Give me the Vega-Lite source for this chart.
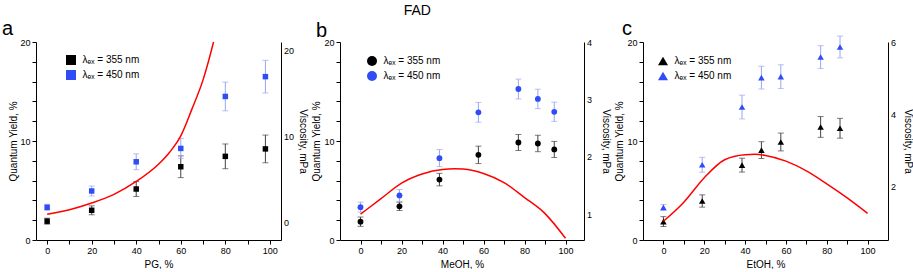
{
  "$schema": "https://vega.github.io/schema/vega-lite/v6.json",
  "background": "white",
  "padding": {"left": 2, "top": 3, "right": 0, "bottom": 0},
  "title": {"text": "FAD", "fontSize": 14, "font": "Liberation Sans", "fontWeight": "normal", "anchor": "middle", "dx": -40, "offset": 1, "color": "black"},
  "datasets": {
    "a_qy": [
      {"x": 0, "series": "355", "qy": 1.9, "err": 0.3},
      {"x": 20, "series": "355", "qy": 3.0, "err": 0.45},
      {"x": 40, "series": "355", "qy": 5.15, "err": 0.75},
      {"x": 60, "series": "355", "qy": 7.4, "err": 1.1},
      {"x": 80, "series": "355", "qy": 8.45, "err": 1.25},
      {"x": 98, "series": "355", "qy": 9.2, "err": 1.4},
      {"x": 0, "series": "450", "qy": 3.3, "err": 0.3},
      {"x": 20, "series": "450", "qy": 4.95, "err": 0.5},
      {"x": 40, "series": "450", "qy": 7.9, "err": 0.8},
      {"x": 60, "series": "450", "qy": 9.25, "err": 1.0},
      {"x": 80, "series": "450", "qy": 14.5, "err": 1.45},
      {"x": 98, "series": "450", "qy": 16.5, "err": 1.65}
    ],
    "a_visc": [
      {"x": 0, "v": 1.0}, {"x": 10, "v": 1.52}, {"x": 20, "v": 2.3}, {"x": 30, "v": 3.3},
      {"x": 40, "v": 4.8}, {"x": 50, "v": 6.8}, {"x": 55, "v": 8.2}, {"x": 60, "v": 10.1},
      {"x": 65, "v": 13.2}, {"x": 70, "v": 16.6}, {"x": 75, "v": 21.3}, {"x": 80, "v": 27}
    ],
    "b_qy": [
      {"x": 0, "series": "355", "qy": 1.85, "err": 0.47},
      {"x": 19, "series": "355", "qy": 3.4, "err": 0.42},
      {"x": 38.5, "series": "355", "qy": 6.1, "err": 0.63},
      {"x": 57.5, "series": "355", "qy": 8.6, "err": 0.88},
      {"x": 77, "series": "355", "qy": 9.85, "err": 0.81},
      {"x": 86.5, "series": "355", "qy": 9.75, "err": 0.83},
      {"x": 94.5, "series": "355", "qy": 9.15, "err": 0.81},
      {"x": 0, "series": "450", "qy": 3.32, "err": 0.5},
      {"x": 19, "series": "450", "qy": 4.5, "err": 0.6},
      {"x": 38.5, "series": "450", "qy": 8.27, "err": 0.86},
      {"x": 57.5, "series": "450", "qy": 12.9, "err": 1.0},
      {"x": 77, "series": "450", "qy": 15.25, "err": 1.0},
      {"x": 86.5, "series": "450", "qy": 14.25, "err": 0.98},
      {"x": 94.5, "series": "450", "qy": 12.95, "err": 0.97}
    ],
    "b_visc": [
      {"x": 0, "v": 1.0}, {"x": 10, "v": 1.27}, {"x": 20, "v": 1.54}, {"x": 30, "v": 1.7},
      {"x": 40, "v": 1.78}, {"x": 46, "v": 1.79}, {"x": 50, "v": 1.785}, {"x": 60, "v": 1.71},
      {"x": 70, "v": 1.55}, {"x": 80, "v": 1.29}, {"x": 90, "v": 1.01}, {"x": 100, "v": 0.58}
    ],
    "c_qy": [
      {"x": 0, "series": "355", "qy": 1.86, "err": 0.5},
      {"x": 19, "series": "355", "qy": 3.94, "err": 0.62},
      {"x": 38.5, "series": "355", "qy": 7.56, "err": 0.7},
      {"x": 48, "series": "355", "qy": 9.08, "err": 0.85},
      {"x": 57.5, "series": "355", "qy": 9.9, "err": 0.9},
      {"x": 77, "series": "355", "qy": 11.42, "err": 1.05},
      {"x": 86.5, "series": "355", "qy": 11.29, "err": 1.0},
      {"x": 0, "series": "450", "qy": 3.29, "err": 0.3},
      {"x": 19, "series": "450", "qy": 7.6, "err": 0.75},
      {"x": 38.5, "series": "450", "qy": 13.43, "err": 1.2},
      {"x": 48, "series": "450", "qy": 16.4, "err": 1.15},
      {"x": 57.5, "series": "450", "qy": 16.5, "err": 1.2},
      {"x": 77, "series": "450", "qy": 18.48, "err": 1.15},
      {"x": 86.5, "series": "450", "qy": 19.5, "err": 1.1}
    ],
    "c_visc": [
      {"x": 0, "v": 1.02}, {"x": 10, "v": 1.55}, {"x": 20, "v": 2.23}, {"x": 30, "v": 2.73},
      {"x": 40, "v": 2.87}, {"x": 45, "v": 2.88}, {"x": 50, "v": 2.85}, {"x": 60, "v": 2.69},
      {"x": 70, "v": 2.42}, {"x": 80, "v": 2.06}, {"x": 90, "v": 1.67}, {"x": 100, "v": 1.24}
    ]
  },
  "hconcat": [
    {
      "width": 245, "height": 198,
      "title": {"text": "a", "frame": "group", "anchor": "start", "fontSize": 20, "fontWeight": "normal", "font": "Liberation Sans", "dx": -34, "offset": -1, "color": "black"},
      "encoding": {"x": {"field": "x", "type": "quantitative", "scale": {"domain": [-5, 105], "nice": false, "zero": false},
        "axis": {"title": "PG, %", "values": [0, 10, 20, 30, 40, 50, 60, 70, 80, 90, 100], "labelExpr": "datum.value % 20 === 0 ? datum.label : ''", "encode": {"ticks": {"update": {"y2": {"signal": "datum.value % 20 === 0 ? 4 : 2"}}}}}}},
      "layer": [
        {"data": {"name": "a_qy"}, "transform": [{"filter": "datum.series === '355'"}],
         "mark": {"type": "errorbar", "ticks": {"size": 6, "color": "#444444"}, "rule": {"color": "#444444"}},
         "encoding": {"y": {"field": "qy", "type": "quantitative", "scale": {"domain": [0, 20], "nice": false}, "axis": null}, "yError": {"field": "err"}}},
        {"data": {"name": "a_qy"}, "transform": [{"filter": "datum.series === '450'"}],
         "mark": {"type": "errorbar", "ticks": {"size": 6, "color": "#98a6f2"}, "rule": {"color": "#98a6f2"}},
         "encoding": {"y": {"field": "qy", "type": "quantitative", "scale": {"domain": [0, 20], "nice": false}, "axis": null}, "yError": {"field": "err"}}},
        {"data": {"name": "a_qy"},
         "mark": {"type": "square", "size": 30, "opacity": 1},
         "encoding": {
           "y": {"field": "qy", "type": "quantitative", "scale": {"domain": [0, 20], "nice": false},
             "axis": {"orient": "left", "title": "Quantum Yield, %", "values": [0, 2, 4, 6, 8, 10, 12, 14, 16, 18, 20], "labelExpr": "datum.value % 10 === 0 ? datum.label : ''", "titlePadding": 1, "encode": {"ticks": {"update": {"x2": {"signal": "datum.value % 10 === 0 ? -4 : -2"}}}}}},
           "color": {"field": "series", "type": "nominal", "scale": {"domain": ["355", "450"], "range": ["#000000", "#2f4cf7"]},
             "legend": {"orient": "none", "legendX": 30, "legendY": 13, "title": null, "labelExpr": "datum.label === '355' ? 'λₑₓ = 355 nm' : 'λₑₓ = 450 nm'"}}}},
        {"data": {"name": "a_visc"},
         "mark": {"type": "line", "color": "#ff0000", "strokeWidth": 1.5, "interpolate": "monotone", "clip": true},
         "encoding": {"y": {"field": "v", "type": "quantitative", "scale": {"domain": [-2, 21], "nice": false, "zero": false},
           "axis": {"orient": "right", "title": "Viscosity, mPa", "values": [0, 5, 10, 15, 20], "format": ".0f", "labelExpr": "datum.value % 10 === 0 ? datum.label : ''", "tickSize": 0, "labelPadding": 2.5, "titlePadding": 4, "encode": {"ticks": {"update": {"x2": {"signal": "datum.value % 10 === 0 ? -4 : -2"}}}}}}}}
      ],
      "resolve": {"scale": {"y": "independent"}}
    },
    {
      "width": 244, "height": 198,
      "title": {"text": "b", "frame": "group", "anchor": "start", "fontSize": 20, "fontWeight": "normal", "font": "Liberation Sans", "dx": -24, "offset": -3, "color": "black"},
      "encoding": {"x": {"field": "x", "type": "quantitative", "scale": {"domain": [-10, 109], "nice": false, "zero": false},
        "axis": {"title": "MeOH, %", "values": [0, 10, 20, 30, 40, 50, 60, 70, 80, 90, 100], "labelExpr": "datum.value % 20 === 0 ? datum.label : ''", "encode": {"ticks": {"update": {"y2": {"signal": "datum.value % 20 === 0 ? 4 : 2"}}}}}}},
      "layer": [
        {"data": {"name": "b_qy"}, "transform": [{"filter": "datum.series === '355'"}],
         "mark": {"type": "errorbar", "ticks": {"size": 6, "color": "#444444"}, "rule": {"color": "#444444"}},
         "encoding": {"y": {"field": "qy", "type": "quantitative", "scale": {"domain": [0, 20], "nice": false}, "axis": null}, "yError": {"field": "err"}}},
        {"data": {"name": "b_qy"}, "transform": [{"filter": "datum.series === '450'"}],
         "mark": {"type": "errorbar", "ticks": {"size": 6, "color": "#98a6f2"}, "rule": {"color": "#98a6f2"}},
         "encoding": {"y": {"field": "qy", "type": "quantitative", "scale": {"domain": [0, 20], "nice": false}, "axis": null}, "yError": {"field": "err"}}},
        {"data": {"name": "b_qy"},
         "mark": {"type": "circle", "size": 34, "opacity": 1},
         "encoding": {
           "y": {"field": "qy", "type": "quantitative", "scale": {"domain": [0, 20], "nice": false},
             "axis": {"orient": "left", "title": "Quantum Yield, %", "values": [0, 2, 4, 6, 8, 10, 12, 14, 16, 18, 20], "labelExpr": "datum.value % 10 === 0 ? datum.label : ''", "titlePadding": 2, "encode": {"ticks": {"update": {"x2": {"signal": "datum.value % 10 === 0 ? -4 : -2"}}}}}},
           "color": {"field": "series", "type": "nominal", "scale": {"domain": ["355", "450"], "range": ["#000000", "#2f4cf7"]},
             "legend": {"orient": "none", "legendX": 27, "legendY": 14, "title": null, "labelExpr": "datum.label === '355' ? 'λₑₓ = 355 nm' : 'λₑₓ = 450 nm'"}}}},
        {"data": {"name": "b_visc"},
         "mark": {"type": "line", "color": "#ff0000", "strokeWidth": 1.5, "interpolate": "monotone", "clip": true},
         "encoding": {"y": {"field": "v", "type": "quantitative", "scale": {"domain": [0.55, 4], "nice": false, "zero": false},
           "axis": {"orient": "right", "title": "Viscosity, mPa", "values": [1, 1.5, 2, 2.5, 3, 3.5, 4], "format": ".0f", "labelExpr": "datum.value % 1 === 0 ? datum.label : ''", "tickSize": 0, "labelPadding": 2.5, "titlePadding": 9, "encode": {"ticks": {"update": {"x2": {"signal": "datum.value % 1 === 0 ? -4 : -2"}}}}}}}}
      ],
      "resolve": {"scale": {"y": "independent"}}
    },
    {
      "width": 245, "height": 198,
      "title": {"text": "c", "frame": "group", "anchor": "start", "fontSize": 20, "fontWeight": "normal", "font": "Liberation Sans", "dx": -21, "offset": -3, "color": "black"},
      "encoding": {"x": {"field": "x", "type": "quantitative", "scale": {"domain": [-10, 110], "nice": false, "zero": false},
        "axis": {"title": "EtOH, %", "values": [0, 10, 20, 30, 40, 50, 60, 70, 80, 90, 100], "labelExpr": "datum.value % 20 === 0 ? datum.label : ''", "encode": {"ticks": {"update": {"y2": {"signal": "datum.value % 20 === 0 ? 4 : 2"}}}}}}},
      "layer": [
        {"data": {"name": "c_qy"}, "transform": [{"filter": "datum.series === '355'"}],
         "mark": {"type": "errorbar", "ticks": {"size": 6, "color": "#444444"}, "rule": {"color": "#444444"}},
         "encoding": {"y": {"field": "qy", "type": "quantitative", "scale": {"domain": [0, 20], "nice": false}, "axis": null}, "yError": {"field": "err"}}},
        {"data": {"name": "c_qy"}, "transform": [{"filter": "datum.series === '450'"}],
         "mark": {"type": "errorbar", "ticks": {"size": 6, "color": "#98a6f2"}, "rule": {"color": "#98a6f2"}},
         "encoding": {"y": {"field": "qy", "type": "quantitative", "scale": {"domain": [0, 20], "nice": false}, "axis": null}, "yError": {"field": "err"}}},
        {"data": {"name": "c_qy"},
         "mark": {"type": "point", "shape": "triangle-up", "filled": true, "size": 42, "opacity": 1},
         "encoding": {
           "y": {"field": "qy", "type": "quantitative", "scale": {"domain": [0, 20], "nice": false},
             "axis": {"orient": "left", "title": "Quantum Yield, %", "values": [0, 2, 4, 6, 8, 10, 12, 14, 16, 18, 20], "labelExpr": "datum.value % 10 === 0 ? datum.label : ''", "titlePadding": 2, "encode": {"ticks": {"update": {"x2": {"signal": "datum.value % 10 === 0 ? -4 : -2"}}}}}},
           "color": {"field": "series", "type": "nominal", "scale": {"domain": ["355", "450"], "range": ["#000000", "#2f4cf7"]},
             "legend": {"orient": "none", "legendX": 15, "legendY": 14, "title": null, "labelExpr": "datum.label === '355' ? 'λₑₓ = 355 nm' : 'λₑₓ = 450 nm'"}}}},
        {"data": {"name": "c_visc"},
         "mark": {"type": "line", "color": "#ff0000", "strokeWidth": 1.5, "interpolate": "monotone", "clip": true},
         "encoding": {"y": {"field": "v", "type": "quantitative", "scale": {"domain": [0.5, 6], "nice": false, "zero": false},
           "axis": {"orient": "right", "title": "Viscosity, mPa", "values": [1, 2, 3, 4, 5, 6], "format": ".0f", "labelExpr": "datum.value % 2 === 0 ? datum.label : ''", "tickSize": 0, "labelPadding": 2.5, "titlePadding": 7, "encode": {"ticks": {"update": {"x2": {"signal": "datum.value % 2 === 0 ? -4 : -2"}}}}}}}}
      ],
      "resolve": {"scale": {"y": "independent"}}
    }
  ],
  "spacing": 59,
  "bounds": "flush",
  "resolve": {"scale": {"color": "independent"}, "legend": {"color": "independent"}},
  "config": {
    "view": {"stroke": null},
    "font": "Liberation Sans",
    "axis": {"grid": false, "domainColor": "#000000", "tickColor": "#000000", "labelColor": "#000000", "titleColor": "#000000",
      "labelFont": "Liberation Sans", "labelFontSize": 9, "titleFont": "Liberation Sans", "titleFontSize": 10, "titleFontWeight": "normal",
      "tickSize": 4, "labelPadding": 2, "labelOverlap": false, "labelFlush": false, "titlePadding": 4},
    "legend": {"labelFont": "Liberation Sans", "labelFontSize": 10, "labelColor": "#000000", "rowPadding": 5, "symbolStrokeWidth": 0, "labelOffset": 6.5}
  }
}
